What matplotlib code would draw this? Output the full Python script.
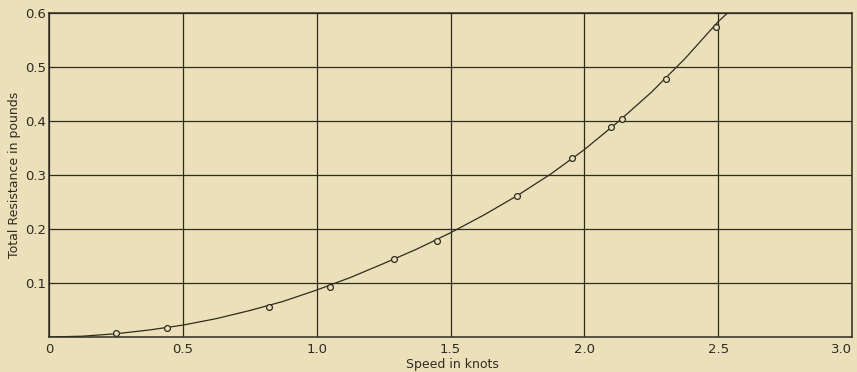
import matplotlib
matplotlib.use("Agg")
import matplotlib.pyplot as plt

# Observed test points (speed in knots, total resistance in pounds)
speed_pts = [0.25, 0.44, 0.82, 1.05, 1.29, 1.45, 1.75, 1.955, 2.10, 2.14, 2.305, 2.49]
resist_pts = [0.007, 0.017, 0.055, 0.092, 0.145, 0.178, 0.261, 0.332, 0.389, 0.404, 0.478, 0.574]

# Faired curve
curve_speed = [0.0, 0.125, 0.25, 0.375, 0.5, 0.625, 0.75, 0.875, 1.0, 1.125, 1.25, 1.375,
               1.5, 1.625, 1.75, 1.875, 2.0, 2.125, 2.25, 2.375, 2.5, 2.535]
curve_resist = [0.0, 0.0015, 0.006, 0.013, 0.022, 0.034, 0.049, 0.066, 0.087, 0.110, 0.136, 0.163,
                0.193, 0.226, 0.262, 0.302, 0.347, 0.398, 0.453, 0.515, 0.584, 0.600]

xticks = [0, 0.5, 1.0, 1.5, 2.0, 2.5, 3.0]
xtick_labels = ["0", "0.5", "1.0", "1.5", "2.0", "2.5", "3.0"]
yticks = [0.1, 0.2, 0.3, 0.4, 0.5, 0.6]
ytick_labels = ["0.1", "0.2", "0.3", "0.4", "0.5", "0.6"]

bg = "#ebe0b9"
ink = "#2e2c20"

fig = plt.figure(figsize=(8.57, 3.72), dpi=100, facecolor=bg)
ax = fig.add_axes([0.0572, 0.0941, 0.937, 0.871], facecolor=bg)

ax.plot(curve_speed, curve_resist, color=ink, lw=0.9, zorder=3)
ax.plot(speed_pts, resist_pts, linestyle="none", marker="o", markersize=4.2,
        markerfacecolor=bg, markeredgecolor=ink, markeredgewidth=0.9, zorder=4)

ax.set_xlim(0, 3.0)
ax.set_ylim(0, 0.6)
ax.set_xticks(xticks)
ax.set_xticklabels(xtick_labels)
ax.set_yticks(yticks)
ax.set_yticklabels(ytick_labels)
ax.tick_params(length=0, labelsize=9.5, colors=ink)
ax.tick_params(axis="x", pad=4)
ax.tick_params(axis="y", pad=2)
ax.get_xticklabels()[-1].set_horizontalalignment("right")
ax.grid(True, color=ink, lw=0.9)
ax.set_axisbelow(True)
for s in ax.spines.values():
    s.set_color(ink)
    s.set_linewidth(1.1)

ax.set_xlabel("Speed in knots", fontsize=9, color=ink)
ax.set_ylabel("Total Resistance in pounds", fontsize=9, color=ink)
ax.xaxis.set_label_coords(0.502, -0.066)
ax.yaxis.set_label_coords(-0.035, 0.5)

fig.savefig("out.png", dpi=100, facecolor=bg)
